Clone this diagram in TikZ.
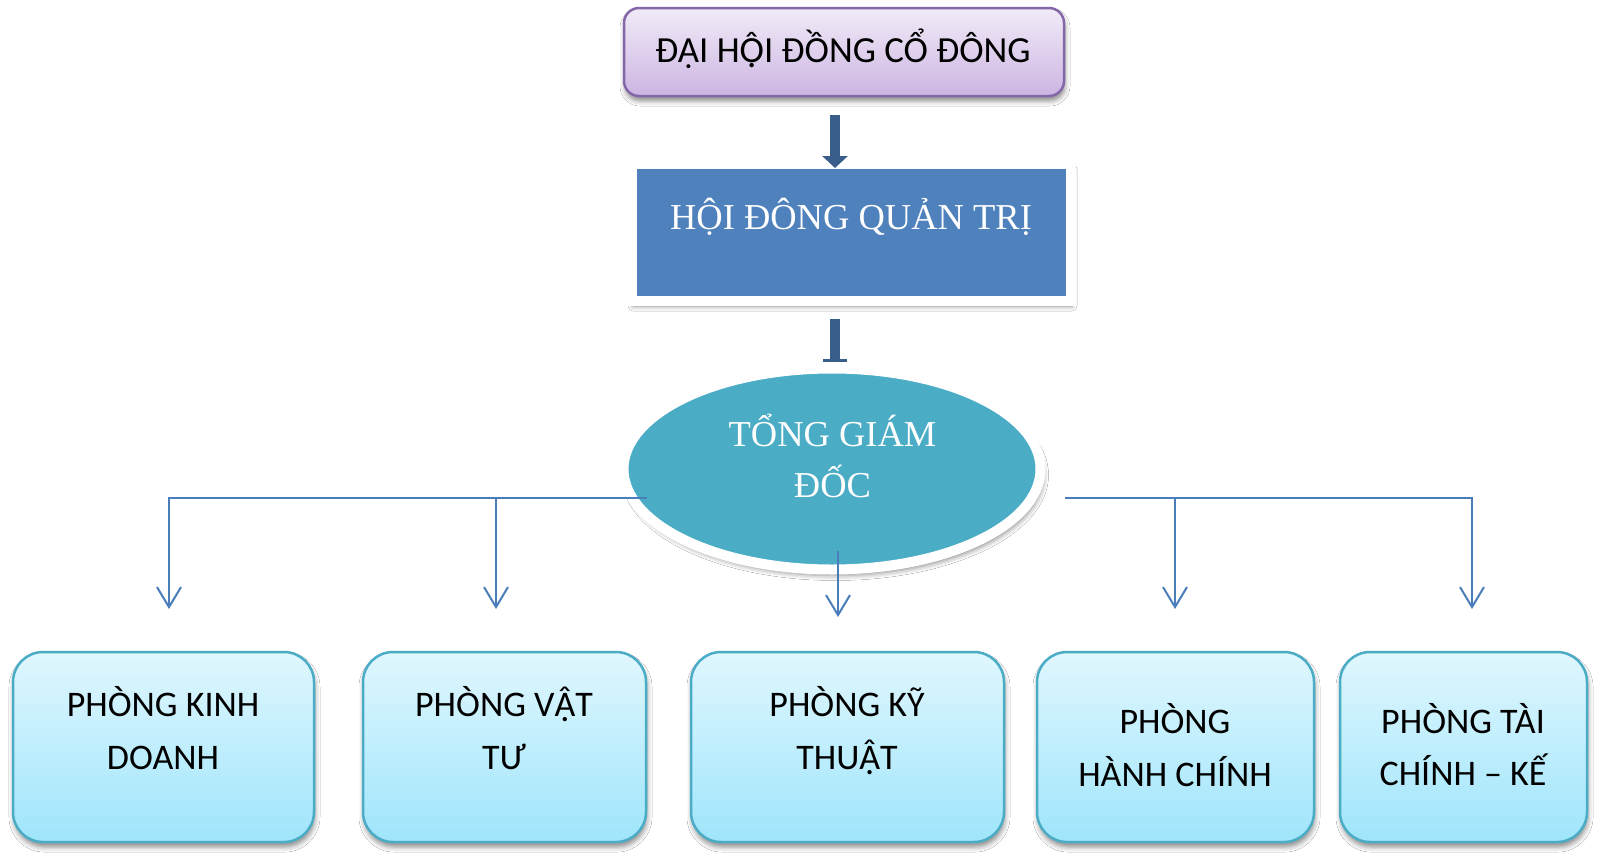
\documentclass[tikz,border=0pt]{standalone}
\usepackage{fontspec}
\setmainfont{Carlito}
\newfontfamily\sansfnt{Carlito}
\newfontfamily\seriffnt{Liberation Serif}
\usetikzlibrary{arrows.meta,shapes.geometric,shadows.blur}
\newcommand\dotunder[1]{\leavevmode\setbox0\hbox{#1}\rlap{\copy0}\hbox to\wd0{\hss\raisebox{-0.16em}{.}\hss}}
\definecolor{topfillA}{HTML}{F1EBF8}
\definecolor{topfillB}{HTML}{CCB5E2}
\definecolor{topline}{HTML}{8467A8}
\definecolor{arrowblue}{HTML}{3A5E8C}
\definecolor{hdblue}{HTML}{4F81BD}
\definecolor{tgdteal}{HTML}{4BACC6}
\definecolor{linkblue}{HTML}{4A7EBB}
\definecolor{boxA}{HTML}{E0F7FE}
\definecolor{boxB}{HTML}{9FE5FB}
\definecolor{boxline}{HTML}{4BACC6}
\tikzset{
  softshadow/.style={blur shadow={shadow xshift=1pt, shadow yshift=-5pt, shadow blur radius=5pt, shadow opacity=45}},
  topbox/.style={rectangle, rounded corners=15pt, draw=topline, line width=2.5pt, top color=topfillA, bottom color=topfillB, softshadow, inner sep=0pt},
  hdbox/.style={rectangle, fill=hdblue, draw=white, line width=10pt, softshadow, inner sep=0pt},
  tgdell/.style={ellipse, fill=tgdteal, draw=white, line width=10pt, blur shadow={shadow xshift=3pt, shadow yshift=-6pt, shadow blur radius=5pt, shadow opacity=45}, inner sep=0pt},
  dept/.style={rectangle, rounded corners=30pt, draw=boxline, line width=2.5pt, top color=boxA, bottom color=boxB, softshadow, inner sep=0pt, minimum height=190pt},
  sanstxt/.style={anchor=base, inner sep=0pt, font=\sansfnt\fontsize{36}{43}\selectfont},
  toptxt/.style={anchor=base, inner sep=0pt, font=\sansfnt\fontsize{36.8}{44}\selectfont},
  seriftxt/.style={anchor=base, inner sep=0pt, text=white, font=\seriffnt\fontsize{36.5}{44}\selectfont},
  thickarrow/.style={line width=10pt, draw=arrowblue, -{Triangle[length=12pt,width=25pt]}},
  thickbar/.style={line width=10pt, draw=arrowblue, -{Bar[width=24pt,line width=3pt]}},
  link/.style={line width=2pt, draw=linkblue, -{Straight Barb[length=20pt,width=24pt]}}
}
\begin{document}
\begin{tikzpicture}[x=1pt,y=-1pt]
\useasboundingbox (0,0) rectangle (1600,860);
\fill[white] (0,0) rectangle (1600,860);

% boxes
\node[topbox, minimum width=440pt, minimum height=88pt] (dh) at (844,52) {};
\node[hdbox, minimum width=439pt, minimum height=137pt] (hd) at (851.5,232.5) {};
\node[tgdell, minimum width=417pt, minimum height=201pt] (tgd) at (832,469) {};

\node[dept, minimum width=301pt] (b1) at (163.5,747) {};
\node[dept, minimum width=283pt] (b2) at (504.5,747) {};
\node[dept, minimum width=313pt] (b3) at (847.5,747) {};
\node[dept, minimum width=277pt] (b4) at (1175.5,747) {};
\node[dept, minimum width=247pt] (b5) at (1463.5,747) {};

% coordinates for connector ends
\coordinate (a1s) at (835,115);
\coordinate (a1e) at (835,168);
\coordinate (a2s) at (835,319);
\coordinate (a2e) at (835,362);
\coordinate (lA) at (647,498);
\coordinate (t1) at (169,609);
\coordinate (j2) at (496,498);
\coordinate (t2) at (496,609);
\coordinate (cA) at (838,551);
\coordinate (t3) at (838,617);
\coordinate (rA) at (1065,498);
\coordinate (j4) at (1175,498);
\coordinate (t4) at (1175,609);
\coordinate (t5) at (1472,609);

% connectors
\draw[thickarrow] (a1s) -- (a1e);
\draw[thickbar] (a2s) -- (a2e);
\draw[link] (lA) -| (t1);
\draw[link] (j2) -- (t2);
\draw[link] (cA) -- (t3);
\draw[link] (rA) -| (t5);
\draw[link] (j4) -- (t4);

% texts
\node[toptxt] (dhT) at (843,62) {ĐẠI H\dotunder{Ô}I ĐỒNG CỔ ĐÔNG};
\node[seriftxt] (hdT) at (851,229) {HỘI ĐÔNG QUẢN TRỊ};
\node[seriftxt] (tgdT1) at (832.5,446) {TỔNG GIÁM};
\node[seriftxt] (tgdT2) at (832.5,497) {ĐỐC};

\node[sanstxt] (b1a) at (163,716) {PHÒNG KINH};
\node[sanstxt] (b1b) at (163,769) {DOANH};
\node[sanstxt] (b2a) at (504,716) {PHÒNG V\dotunder{Â}T};
\node[sanstxt] (b2b) at (504,769) {TƯ};
\node[sanstxt] (b3a) at (847,716) {PHÒNG KỸ};
\node[sanstxt] (b3b) at (847,769) {THU\dotunder{Â}T};
\node[sanstxt] (b4a) at (1175,733) {PHÒNG};
\node[sanstxt] (b4b) at (1175,786) {HÀNH CHÍNH};
\node[sanstxt] (b5a) at (1463,733) {PHÒNG TÀI};
\node[sanstxt] (b5b) at (1463,785) {CHÍNH – KẾ};
\end{tikzpicture}
\end{document}
